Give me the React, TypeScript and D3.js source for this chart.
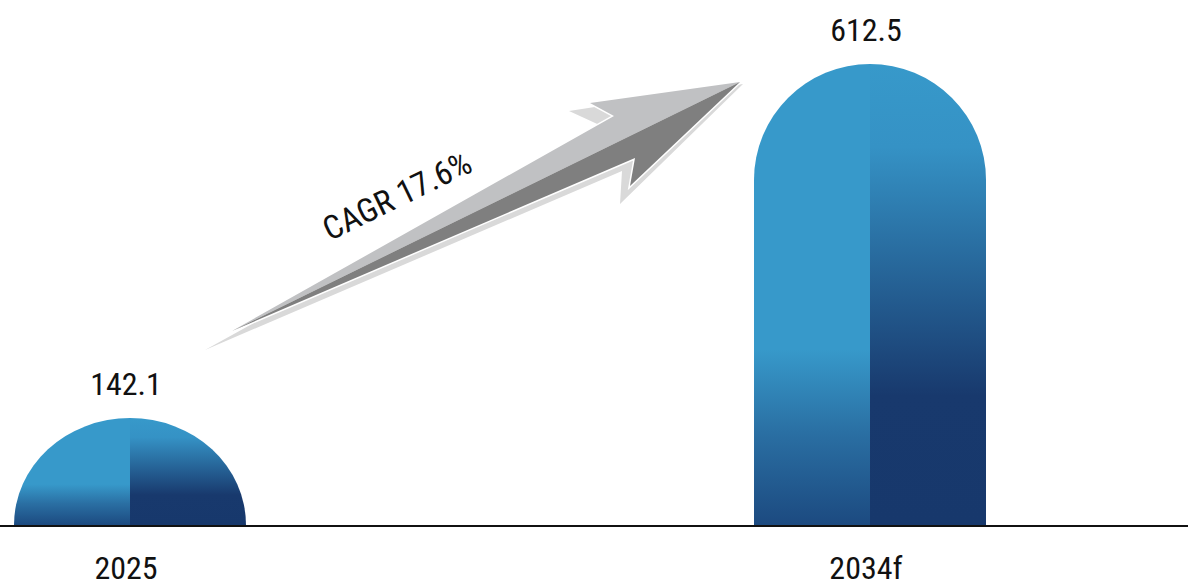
import React from "react";
import * as d3 from "d3";

const categories = ["2025", "2034f"];
const values = [142.1, 612.5];
const valueLabels = ["142.1", "612.5"];
const cagrLabel = "CAGR 17.6%";

const W = 1188;
const H = 587;
const BASE = 525;
const FONT = "'Liberation Sans Narrow', 'Arial Narrow', 'Roboto Condensed', 'Liberation Sans', sans-serif";

export default function App() {
  const x = d3.scaleBand<string>().domain(categories).range([14, 986]).paddingInner(0.6865).paddingOuter(0);
  const y = d3.scaleLinear().domain([0, 612.5]).range([BASE, 64]);
  const bw = x.bandwidth();
  const rx = bw / 2;

  const leftHalf = (x0: number, top: number) => {
    const ry = Math.min(rx, BASE - top);
    const p = d3.path();
    p.moveTo(x0, BASE);
    p.lineTo(x0, top + ry);
    return p.toString() + ` A ${rx} ${ry} 0 0 1 ${x0 + rx} ${top} L ${x0 + rx} ${BASE} Z`;
  };
  const rightHalf = (x0: number, top: number) => {
    const ry = Math.min(rx, BASE - top);
    const xc = x0 + rx;
    return `M ${xc} ${BASE} L ${xc} ${top} A ${rx} ${ry} 0 0 1 ${x0 + bw} ${top + ry} L ${x0 + bw} ${BASE} Z`;
  };

  // arrow geometry
  const tail: [number, number] = [232, 331];
  const tip: [number, number] = [740, 82];
  const upNotch: [number, number] = [614, 116];
  const upBarb: [number, number] = [590, 103];
  const loNotch: [number, number] = [635, 158];
  const loBarb: [number, number] = [630, 186];
  const sh = {
    tail: [205, 350],
    upNotch: [606, 128],
    upBarb: [569, 111],
    tip: [743, 84],
    loBarb: [620, 204],
    loNotch: [622, 171],
  };
  const line = d3.line();
  const shadowPath = line([sh.tail, sh.upNotch, sh.upBarb, sh.tip, sh.loBarb, sh.loNotch] as [number, number][]) + "Z";
  const outline = line([tail, upNotch, upBarb, tip, loBarb, loNotch]) + "Z";
  const upperFace = line([tail, upNotch, upBarb, tip]) + "Z";
  const lowerFace = line([tail, tip, loBarb, loNotch]) + "Z";

  return (
    <svg width={W} height={H} style={{ position: "absolute", left: 0, top: 0, background: "#fff" }}>
      <defs>
        {categories.map((c, i) => (
          <React.Fragment key={c}>
            <linearGradient id={`gl${i}`} gradientUnits="userSpaceOnUse" x1={0} x2={0} y1={y(values[i])} y2={BASE}>
              <stop offset="0" stopColor="#3799ca" />
              <stop offset="0.62" stopColor="#3799ca" />
              <stop offset="0.8" stopColor="#2a6fa3" />
              <stop offset="1" stopColor="#1c4a80" />
            </linearGradient>
            <linearGradient id={`gr${i}`} gradientUnits="userSpaceOnUse" x1={0} x2={0} y1={y(values[i])} y2={BASE}>
              <stop offset="0" stopColor="#3799ca" />
              <stop offset="0.18" stopColor="#3592c5" />
              <stop offset="0.72" stopColor="#18396d" />
              <stop offset="1" stopColor="#17386c" />
            </linearGradient>
          </React.Fragment>
        ))}
      </defs>

      {categories.map((c, i) => {
        const x0 = x(c) as number;
        const top = y(values[i]);
        return (
          <g key={c}>
            <path d={leftHalf(x0, top)} fill={`url(#gl${i})`} />
            <path d={rightHalf(x0, top)} fill={`url(#gr${i})`} />
            <text x={x0 + rx - 4} y={top - 23} textAnchor="middle" fontFamily={FONT} fontSize={32} fill="#111">
              {valueLabels[i]}
            </text>
            <text x={x0 + rx - 4} y={579} textAnchor="middle" fontFamily={FONT} fontSize={32} fill="#111">
              {c}
            </text>
          </g>
        );
      })}

      <line x1={0} x2={W} y1={BASE + 1} y2={BASE + 1} stroke="#111" strokeWidth={2} />

      <path d={shadowPath} fill="#d9d9d9" />
      <path d={outline} fill="#fff" stroke="#fff" strokeWidth={3} strokeLinejoin="miter" />
      <path d={upperFace} fill="#c0c1c3" />
      <path d={lowerFace} fill="#7f7f7f" />

      <text
        transform={`translate(402,206) rotate(-26)`}
        textAnchor="middle"
        fontFamily={FONT}
        fontSize={33}
        fill="#111"
      >
        {cagrLabel}
      </text>
    </svg>
  );
}
